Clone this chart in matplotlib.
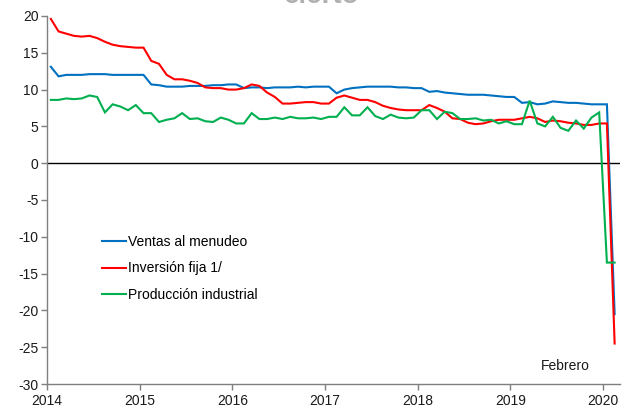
import matplotlib
matplotlib.use("Agg")
import matplotlib.pyplot as plt
import numpy as np

plt.rcParams['font.family'] = ['Liberation Sans', 'DejaVu Sans']
plt.rcParams['axes.unicode_minus'] = False

# Monthly, Jan 2014 .. Feb 2020
ventas = [13.1, 11.8, 12.0, 12.0, 12.0, 12.1, 12.1, 12.1, 12.0, 12.0, 12.0, 12.0,
          12.0, 10.7, 10.6, 10.4, 10.4, 10.4, 10.5, 10.5, 10.5, 10.6, 10.6, 10.7,
          10.7, 10.2, 10.3, 10.3, 10.2, 10.3, 10.3, 10.3, 10.4, 10.3, 10.4, 10.4,
          10.4, 9.5, 10.0, 10.2, 10.3, 10.4, 10.4, 10.4, 10.4, 10.3, 10.3, 10.2,
          10.2, 9.7, 9.8, 9.6, 9.5, 9.4, 9.3, 9.3, 9.3, 9.2, 9.1, 9.0,
          9.0, 8.2, 8.3, 8.0, 8.1, 8.4, 8.3, 8.2, 8.2, 8.1, 8.0, 8.0,
          8.0, -20.5]
inversion = [19.6, 17.9, 17.6, 17.3, 17.2, 17.3, 17.0, 16.5, 16.1, 15.9, 15.8, 15.7,
             15.7, 13.9, 13.5, 12.0, 11.4, 11.4, 11.2, 10.9, 10.3, 10.2, 10.2, 10.0,
             10.0, 10.2, 10.7, 10.5, 9.6, 9.0, 8.1, 8.1, 8.2, 8.3, 8.3, 8.1,
             8.1, 8.9, 9.2, 8.9, 8.6, 8.6, 8.3, 7.8, 7.5, 7.3, 7.2, 7.2,
             7.2, 7.9, 7.5, 7.0, 6.1, 6.0, 5.5, 5.3, 5.4, 5.7, 5.9, 5.9,
             5.9, 6.1, 6.3, 6.1, 5.6, 5.8, 5.7, 5.5, 5.4, 5.2, 5.2, 5.4,
             5.4, -24.5]
produccion = [8.6, 8.6, 8.8, 8.7, 8.8, 9.2, 9.0, 6.9, 8.0, 7.7, 7.2, 7.9,
              6.8, 6.8, 5.6, 5.9, 6.1, 6.8, 6.0, 6.1, 5.7, 5.6, 6.2, 5.9,
              5.4, 5.4, 6.8, 6.0, 6.0, 6.2, 6.0, 6.3, 6.1, 6.1, 6.2, 6.0,
              6.3, 6.3, 7.6, 6.5, 6.5, 7.6, 6.4, 6.0, 6.6, 6.2, 6.1, 6.2,
              7.2, 7.2, 6.0, 7.0, 6.8, 6.0, 6.0, 6.1, 5.8, 5.9, 5.4, 5.7,
              5.3, 5.3, 8.5, 5.4, 5.0, 6.3, 4.8, 4.4, 5.8, 4.7, 6.2, 6.9,
              -13.5, -13.5]
years = [2014, 2015, 2016, 2017, 2018, 2019, 2020]
labels = ['Ventas al menudeo', 'Inversión fija 1/', 'Producción industrial']
colors = ['#0070C0', '#FF0000', '#00B050']

n = len(ventas)
x = 2014 + (np.arange(n) + 0.5) / 12.0

fig = plt.figure(figsize=(6.29, 4.07), dpi=100)
ax = fig.add_axes([0.0747, 0.0565, 0.911, 0.9042])

for series, lab, col in zip([ventas, inversion, produccion], labels, colors):
    ax.plot(x, series, color=col, lw=1.5, label=lab, solid_joinstyle='miter')

ax.axhline(0, color='black', lw=1.0, zorder=1)

ax.set_xlim(2014, 2020.183)
ax.set_ylim(-30, 20)
ax.set_xticks(years)
ax.set_xticklabels([str(y) for y in years])
ax.set_yticks(np.arange(-30, 21, 5))

for s in ['top', 'right']:
    ax.spines[s].set_visible(False)
for s in ['left', 'bottom']:
    ax.spines[s].set_color('#7F7F7F')
    ax.spines[s].set_linewidth(1.0)
ax.tick_params(axis='both', direction='out', length=4, width=1.0,
               color='#7F7F7F', labelsize=10, labelcolor='#1a1a1a')
ax.tick_params(axis='x', pad=3)
ax.tick_params(axis='y', pad=2)

leg = ax.legend(loc='upper left', bbox_to_anchor=(0.096, 0.405), frameon=False,
                fontsize=10, handlelength=1.75, handletextpad=0.15,
                labelspacing=0.9, borderpad=0, borderaxespad=0)

ax.text(2019.59, -27.6, 'Febrero', ha='center', va='center', fontsize=10,
        color='#1a1a1a')

fig.text(322 / 629, 1 - 3.0 / 407, 'cierto', ha='center', va='baseline',
         fontsize=20, color='#B0B0B0', fontweight='bold')

fig.savefig('out.png', dpi=100)
